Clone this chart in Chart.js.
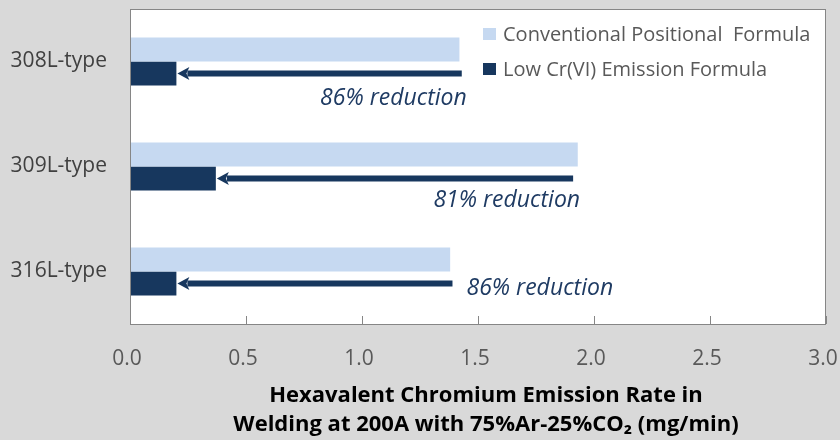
<!DOCTYPE html>
<html>
<head>
<meta charset="utf-8">
<script src="https://cdn.jsdelivr.net/npm/chart.js@4/dist/chart.umd.min.js"></script>
<style>
html,body{margin:0;padding:0;background:#D9D9D9;}
#wrap{width:840px;height:440px;}
</style>
</head>
<body>
<div id="wrap"><canvas id="c" width="840" height="440"></canvas></div>
<script>
// ---- data ----
const categories = ['308L-type', '309L-type', '316L-type'];
const seriesNames = ['Conventional Positional  Formula', 'Low Cr(VI) Emission Formula'];
const conventional = [1.42, 1.93, 1.38];
const lowCrVI = [0.20, 0.37, 0.20];
const arrowStart = [1.43, 1.91, 1.39];
const reductionLabels = ['86% reduction', '81% reduction', '86% reduction'];
const xTicks = [0.0, 0.5, 1.0, 1.5, 2.0, 2.5, 3.0];
const axisTitle = ['Hexavalent Chromium Emission Rate in', 'Welding at 200A with 75%Ar-25%CO\u2082 (mg/min)'];

// ---- styles ----
const LIGHT = '#C6D9F1';
const DARK = '#17375E';
const BORDER = '#868686';
const FONT = '"Open Sans", "Noto Sans", sans-serif';

const decor = {
  id: 'decor',
  beforeDraw(chart) {
    const {ctx, chartArea: a} = chart;
    ctx.save();
    ctx.fillStyle = '#D9D9D9';
    ctx.fillRect(0, 0, chart.width, chart.height);
    ctx.fillStyle = '#FFFFFF';
    ctx.fillRect(a.left, a.top, a.right - a.left, a.bottom - a.top);
    ctx.restore();
  },
  afterDraw(chart) {
    const {ctx, chartArea: a, scales} = chart;
    const xs = scales.x;
    ctx.save();
    // plot border
    ctx.strokeStyle = BORDER;
    ctx.lineWidth = 1;
    ctx.strokeRect(a.left + 0.5, a.top + 0.5, a.right - a.left - 1, a.bottom - a.top);
    // inward tick marks
    ctx.beginPath();
    xTicks.forEach(v => {
      const px = Math.round(xs.getPixelForValue(v)) + 0.5;
      ctx.moveTo(px, a.bottom);
      ctx.lineTo(px, a.bottom - 8);
    });
    ctx.stroke();

    // arrows + reduction labels
    const meta = chart.getDatasetMeta(1);
    arrowStart.forEach((v, i) => {
      const y = meta.data[i].y;
      const x0 = xs.getPixelForValue(v);
      const tip = xs.getPixelForValue(lowCrVI[i]) + 1;
      const headLen = 12;
      ctx.fillStyle = DARK;
      ctx.fillRect(tip + headLen - 2, y - 3, x0 - (tip + headLen - 2), 6);
      ctx.beginPath();
      ctx.moveTo(tip, y);
      ctx.lineTo(tip + headLen, y - 6.5);
      ctx.lineTo(tip + headLen - 3, y);
      ctx.lineTo(tip + headLen, y + 6.5);
      ctx.closePath();
      ctx.fill();

      ctx.font = 'italic 23px ' + FONT;
      ctx.fillStyle = '#1F3B63';
      ctx.textBaseline = 'middle';
      if (i < 2) {
        ctx.textAlign = 'right';
        ctx.fillText(reductionLabels[i], x0 + (i === 0 ? 5 : 7), y + (i === 0 ? 25 : 22));
      } else {
        ctx.textAlign = 'left';
        ctx.fillText(reductionLabels[i], x0 + 14, y + 5);
      }
    });

    // legend
    const lx = a.right - 343;
    const colors = [LIGHT, DARK];
    ctx.font = '20px ' + FONT;
    ctx.textAlign = 'left';
    ctx.textBaseline = 'middle';
    seriesNames.forEach((name, i) => {
      const cy = a.top + 25 + i * 35;
      ctx.fillStyle = colors[i];
      ctx.fillRect(lx, cy - 6, 13, 12);
      ctx.fillStyle = '#595959';
      ctx.fillText(name, lx + 20, cy + 1);
    });

    // x-axis title
    ctx.fillStyle = '#000000';
    ctx.font = 'bold 22px ' + FONT;
    ctx.textAlign = 'center';
    ctx.textBaseline = 'middle';
    const cx = (a.left + a.right) / 2 + 8;
    axisTitle.forEach((t, i) => {
      ctx.fillText(t, cx, a.bottom + 72 + i * 29);
    });
    ctx.restore();
  }
};

new Chart(document.getElementById('c'), {
  type: 'bar',
  data: {
    labels: categories,
    datasets: [
      {label: seriesNames[0], data: conventional, backgroundColor: LIGHT, categoryPercentage: 0.457, barPercentage: 1},
      {label: seriesNames[1], data: lowCrVI, backgroundColor: DARK, categoryPercentage: 0.457, barPercentage: 1}
    ]
  },
  options: {
    indexAxis: 'y',
    responsive: false,
    animation: false,
    layout: {padding: {left: 0, right: 14, top: 9, bottom: 0}},
    scales: {
      x: {
        min: 0, max: 3,
        afterBuildTicks: s => { s.ticks = xTicks.map(v => ({value: v})); },
        ticks: {
          callback: v => Number(v).toFixed(1),
          font: {family: FONT, size: 21},
          color: '#595959',
          padding: 22,
          labelOffset: -3,
          maxRotation: 0,
          autoSkip: false
        },
        grid: {display: false, drawTicks: false},
        border: {display: false},
        afterFit: s => { s.height = 116; s.paddingLeft = 0; s.paddingRight = 0; }
      },
      y: {
        ticks: {font: {family: FONT, size: 21}, color: '#404040', padding: 23},
        grid: {display: false, drawTicks: false},
        border: {display: false},
        afterFit: s => { s.width = 130; s.paddingTop = 0; s.paddingBottom = 0; }
      }
    },
    plugins: {legend: {display: false}, tooltip: {enabled: false}}
  },
  plugins: [decor]
});
</script>
</body>
</html>
